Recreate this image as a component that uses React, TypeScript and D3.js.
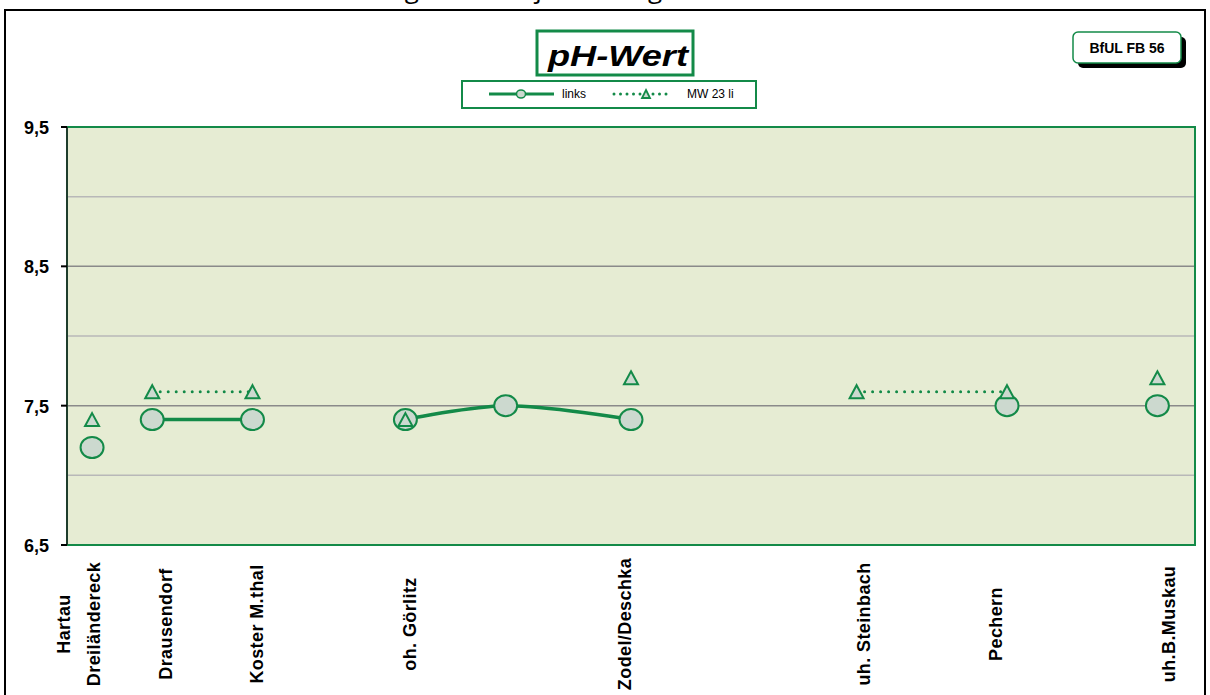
import React from "react";
import * as d3 from "d3";

// ---- data ----
const stations = [
  "Hartau\nDreiländereck",
  "Drausendorf",
  "Koster M.thal",
  "oh. Görlitz",
  "",
  "Zodel/Deschka",
  "uh. Steinbach",
  "Pechern",
  "uh.B.Muskau",
];
// position of each station along the river (axis units)
const stationPos = [1.0, 3.4, 7.4, 13.5, 17.5, 22.5, 31.5, 37.5, 43.5];
// position of each category label along the axis
const labelPos = [0.48, 3.95, 7.58, 13.68, 17.5, 22.26, 31.79, 37.06, 43.96];
const links = [7.2, 7.4, 7.4, 7.4, 7.5, 7.4, null, 7.5, 7.5];
const mw23li = [7.4, 7.6, 7.6, 7.4, null, 7.7, 7.6, 7.6, 7.7];
// connected line segments (points with same id are joined)
const linksSegment = [1, 2, 2, 3, 3, 3, 0, 4, 5];
const mwSegment = [1, 2, 2, 3, 0, 4, 5, 5, 6];
const yMajorTicks = [6.5, 7.5, 8.5, 9.5];
const yMinorTicks = [7.0, 8.0, 9.0];
const yTickLabels = ["6,5", "7,5", "8,5", "9,5"];
const seriesNames = ["links", "MW 23 li"];

const GREEN = "#138a48";
const MARKER_FILL = "#ccd9cf";
const FONT = "'Liberation Sans', Arial, sans-serif";

function segments(values: (number | null)[], seg: number[]) {
  const groups = new Map<number, { x: number; y: number }[]>();
  values.forEach((v, i) => {
    if (v == null || seg[i] === 0) return;
    if (!groups.has(seg[i])) groups.set(seg[i], []);
    groups.get(seg[i])!.push({ x: stationPos[i], y: v });
  });
  return Array.from(groups.values()).filter((g) => g.length > 1);
}

function tri(cx: number, cy: number, w: number, h: number) {
  return `M${cx},${cy - h / 2}L${cx + w / 2},${cy + h / 2}L${cx - w / 2},${cy + h / 2}Z`;
}

export default function App() {
  const W = 1210;
  const H = 695;
  const left = 67, right = 1195, top = 127, bottom = 545;
  const x = d3.scaleLinear().domain([0, 45]).range([left, right]);
  const y = d3.scaleLinear().domain([6.5, 9.5]).range([bottom, top]);
  const line = d3
    .line<{ x: number; y: number }>()
    .x((d) => x(d.x))
    .y((d) => y(d.y))
    .curve(d3.curveCatmullRom.alpha(0.5));

  const linkSegs = segments(links, linksSegment);
  const mwSegs = segments(mw23li, mwSegment);

  return (
    <svg
      width={W}
      height={H}
      style={{ position: "absolute", left: 0, top: 0, background: "#fff" }}
      fontFamily={FONT}
    >
      {/* header text, cut off by the top edge as in the source */}
      <text x={30} y={-2} fontSize={26} fontFamily="'Open Sans', sans-serif" fill="#000">
        Grafik: Mittelwerte der Messungen im Vorjahresvergleich
      </text>
      {/* outer frame */}
      <rect x={5} y={10} width={1200} height={700} fill="#fff" stroke="#000" strokeWidth={2} />

      {/* plot area */}
      <rect x={left} y={top} width={right - left} height={bottom - top} fill="#e6ecd3" />
      {yMinorTicks.map((t) => (
        <line key={"mi" + t} x1={left} x2={right} y1={y(t)} y2={y(t)} stroke="#b8b8b8" strokeWidth={1.5} />
      ))}
      {yMajorTicks.map((t) => (
        <line key={"ma" + t} x1={left} x2={right} y1={y(t)} y2={y(t)} stroke="#8a8a8a" strokeWidth={1.5} />
      ))}
      <rect x={left} y={top} width={right - left} height={bottom - top} fill="none" stroke={GREEN} strokeWidth={2} />
      <line x1={left} x2={left} y1={top} y2={bottom} stroke="#1e3d2c" strokeWidth={2} />
      {yMajorTicks.map((t, i) => (
        <g key={"yt" + t}>
          <line x1={left - 6} x2={left} y1={y(t)} y2={y(t)} stroke="#000" strokeWidth={2} />
          <text x={49} y={y(t) + 7} textAnchor="end" fontSize={18} fontWeight="bold" fill="#000">
            {yTickLabels[i]}
          </text>
        </g>
      ))}

      {/* category labels */}
      {stations.map((s, i) => {
        if (!s) return null;
        const lines = s.split("\n");
        return lines.map((ln, j) => (
          <text
            key={"cl" + i + "_" + j}
            transform={`translate(${x(labelPos[i]) + (j - (lines.length - 1) / 2) * 30},624) rotate(-90)`}
            textAnchor="middle"
            dominantBaseline="central"
            fontSize={18}
            letterSpacing={0.4}
            fontWeight="bold"
            fill="#000"
          >
            {ln}
          </text>
        ));
      })}

      {/* links series */}
      {linkSegs.map((g, i) => (
        <path key={"ll" + i} d={line(g) || ""} fill="none" stroke={GREEN} strokeWidth={3.5} />
      ))}
      {links.map((v, i) =>
        v == null ? null : (
          <ellipse
            key={"lm" + i}
            cx={x(stationPos[i])}
            cy={y(v)}
            rx={11.5}
            ry={10.5}
            fill={MARKER_FILL}
            stroke={GREEN}
            strokeWidth={2}
          />
        )
      )}

      {/* MW 23 li series */}
      {mwSegs.map((g, i) => (
        <path
          key={"ml" + i}
          d={line(g) || ""}
          fill="none"
          stroke={GREEN}
          strokeWidth={3}
          strokeDasharray="0 8"
          strokeLinecap="round"
        />
      ))}
      {mw23li.map((v, i) =>
        v == null ? null : (
          <path
            key={"mm" + i}
            d={tri(x(stationPos[i]), y(v), 14, 13)}
            fill={MARKER_FILL}
            stroke={GREEN}
            strokeWidth={2}
            strokeLinejoin="miter"
          />
        )
      )}

      {/* title */}
      <rect x={537} y={31} width={156} height={44} fill="#fff" stroke={GREEN} strokeWidth={3} />
      <text
        x={618}
        y={66}
        textAnchor="middle"
        fontSize={30}
        fontWeight="bold"
        fontStyle="italic"
        fill="#000"
        textLength={140}
        lengthAdjust="spacingAndGlyphs"
      >
        pH-Wert
      </text>

      {/* legend */}
      <rect x={462} y={81} width={294} height={27} fill="#fff" stroke={GREEN} strokeWidth={2} />
      <line x1={489} x2={554} y1={94} y2={94} stroke={GREEN} strokeWidth={3} />
      <ellipse cx={521} cy={94} rx={4.5} ry={4} fill={MARKER_FILL} stroke={GREEN} strokeWidth={1.5} />
      <text x={562} y={98} fontSize={12} fill="#000">
        {seriesNames[0]}
      </text>
      <line
        x1={614}
        x2={672}
        y1={94}
        y2={94}
        stroke={GREEN}
        strokeWidth={3}
        strokeDasharray="0 6.5"
        strokeLinecap="round"
      />
      <path d={tri(646, 94, 8, 8)} fill={MARKER_FILL} stroke={GREEN} strokeWidth={1.8} />
      <text x={687} y={98} fontSize={12} fill="#000">
        {seriesNames[1]}
      </text>

      {/* BfUL badge */}
      <rect x={1078} y={37} width={108} height={31} rx={5} fill="#000" />
      <rect x={1073} y={32} width={108} height={31} rx={5} fill="#fff" stroke={GREEN} strokeWidth={1.5} />
      <text x={1127} y={52.5} textAnchor="middle" fontSize={14} fontWeight="bold" fill="#000">
        BfUL FB 56
      </text>
    </svg>
  );
}
